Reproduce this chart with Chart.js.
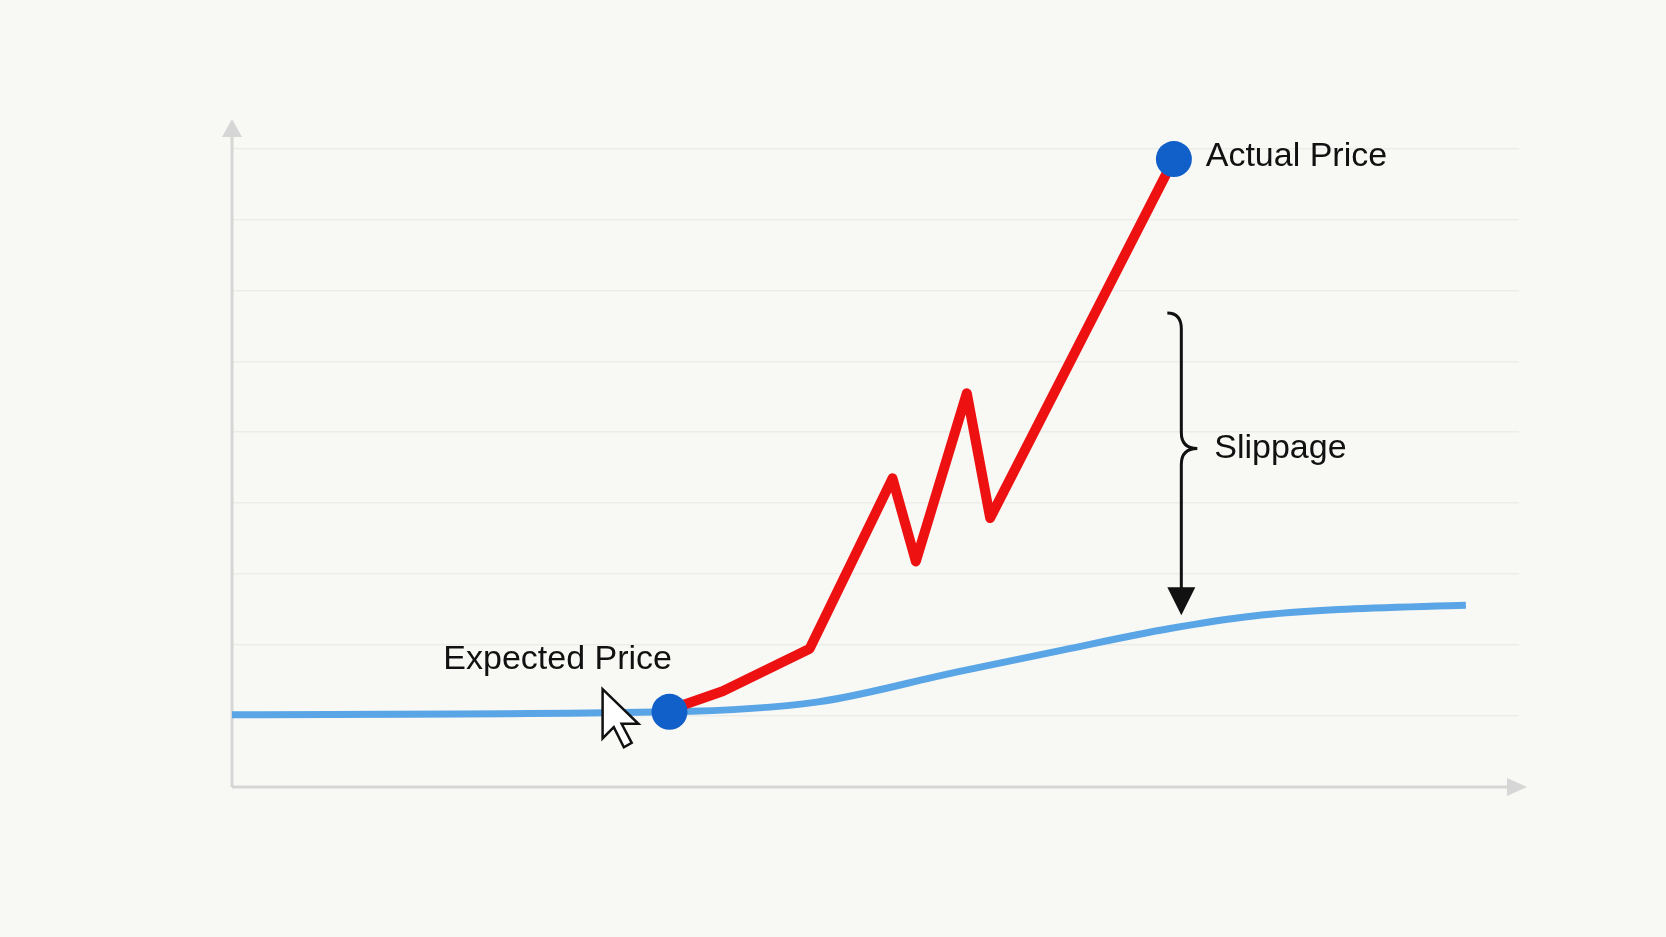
<!DOCTYPE html>
<html>
<head>
<meta charset="utf-8">
<script src="https://cdn.jsdelivr.net/npm/chart.js@4"></script>
<style>
  html, body { margin: 0; padding: 0; background: #f8f8f5; }
  #wrap { width: 1666px; height: 937px; }
</style>
</head>
<body>
<div id="wrap"><canvas id="c"></canvas></div>
<script>
'use strict';

// market price path (blue) and filled price path (red)
const marketX = [0, 4.12, 5.52, 6.82, 7.82, 8.82, 9.62, 10.42, 11.62];
const marketY = [1.02, 1.06, 1.2, 1.62, 1.93, 2.23, 2.41, 2.5, 2.56];
const fillX = [4.12, 4.62, 5.44, 6.22, 6.44, 6.92, 7.14, 8.87];
const fillY = [1.09, 1.35, 1.95, 4.35, 3.18, 5.55, 3.79, 8.85];
const markerX = [4.12, 8.87];
const markerY = [1.06, 8.85];
const labelTexts = ['Expected Price', 'Actual Price', 'Slippage'];

function pts(xs, ys) {
  const out = [];
  for (let i = 0; i < xs.length; i++) out.push({ x: xs[i], y: ys[i] });
  return out;
}

// axes, arrows, brace, cursor and labels
const decor = {
  id: 'decor',
  beforeDatasetsDraw(chart) {
    const ctx = chart.ctx;
    const a = chart.chartArea;
    ctx.save();
    ctx.strokeStyle = '#d6d6d6';
    ctx.fillStyle = '#d6d6d6';
    ctx.lineWidth = 3;
    ctx.beginPath();
    ctx.moveTo(a.left, a.bottom);
    ctx.lineTo(a.left, a.top + 8);
    ctx.moveTo(a.left, a.bottom);
    ctx.lineTo(a.right - 8, a.bottom);
    ctx.stroke();
    ctx.beginPath();
    ctx.moveTo(a.left, a.top - 6);
    ctx.lineTo(a.left - 10, a.top + 12);
    ctx.lineTo(a.left + 10, a.top + 12);
    ctx.fill();
    ctx.beginPath();
    ctx.moveTo(a.right + 8, a.bottom);
    ctx.lineTo(a.right - 12, a.bottom - 9);
    ctx.lineTo(a.right - 12, a.bottom + 9);
    ctx.fill();
    ctx.restore();
  },
  afterDatasetsDraw(chart) {
    const ctx = chart.ctx;
    const xs = chart.scales.x, ys = chart.scales.y;
    ctx.save();
    // brace + arrow
    const bx = xs.getPixelForValue(8.94);
    const yTop = ys.getPixelForValue(6.68);
    const yMid = ys.getPixelForValue(4.77);
    const yEnd = ys.getPixelForValue(2.42);
    ctx.strokeStyle = '#111';
    ctx.lineWidth = 3;
    ctx.beginPath();
    ctx.moveTo(bx - 14, yTop);
    ctx.quadraticCurveTo(bx, yTop, bx, yTop + 16);
    ctx.lineTo(bx, yMid - 16);
    ctx.quadraticCurveTo(bx, yMid, bx + 16, yMid);
    ctx.quadraticCurveTo(bx, yMid, bx, yMid + 16);
    ctx.lineTo(bx, yEnd - 20);
    ctx.stroke();
    ctx.fillStyle = '#111';
    ctx.beginPath();
    ctx.moveTo(bx, yEnd);
    ctx.lineTo(bx - 14, yEnd - 28);
    ctx.lineTo(bx + 14, yEnd - 28);
    ctx.fill();
    // cursor
    const cx = xs.getPixelForValue(3.49), cy = ys.getPixelForValue(1.38);
    const s = 1.12;
    const shape = [[0,0],[0,44],[10,34],[19,52],[26,48],[17,31],[32,31]];
    ctx.beginPath();
    shape.forEach((p, i) => {
      const px = cx + p[0] * s, py = cy + p[1] * s;
      if (i === 0) ctx.moveTo(px, py); else ctx.lineTo(px, py);
    });
    ctx.closePath();
    ctx.fillStyle = '#fff';
    ctx.fill();
    ctx.strokeStyle = '#111';
    ctx.lineWidth = 2.5;
    ctx.stroke();
    // labels
    ctx.fillStyle = '#111';
    ctx.font = '34px "Liberation Sans", Arial, sans-serif';
    ctx.textBaseline = 'middle';
    ctx.fillText(labelTexts[0], xs.getPixelForValue(1.99), ys.getPixelForValue(1.8));
    ctx.fillText(labelTexts[1], xs.getPixelForValue(9.17), ys.getPixelForValue(8.88));
    ctx.fillText(labelTexts[2], xs.getPixelForValue(9.25), ys.getPixelForValue(4.77));
    ctx.restore();
  }
};

new Chart(document.getElementById('c'), {
  type: 'scatter',
  data: {
    datasets: [
      {
        data: pts(markerX, markerY),
        pointRadius: 18,
        pointBackgroundColor: '#1160c9',
        pointBorderWidth: 0,
        order: 0
      },
      {
        data: pts(fillX, fillY),
        showLine: true,
        borderColor: '#ee1111',
        borderWidth: 10,
        borderJoinStyle: 'round',
        borderCapStyle: 'round',
        pointRadius: 0,
        order: 1
      },
      {
        data: pts(marketX, marketY),
        showLine: true,
        borderColor: '#5aa5e6',
        borderWidth: 7,
        cubicInterpolationMode: 'monotone',
        pointRadius: 0,
        order: 2
      }
    ]
  },
  options: {
    responsive: true,
    maintainAspectRatio: false,
    animation: false,
    layout: { padding: { left: 232, right: 147, top: 125, bottom: 142 } },
    plugins: { legend: { display: false }, tooltip: { enabled: false } },
    scales: {
      x: {
        type: 'linear', min: 0, max: 12.12,
        display: true,
        ticks: { display: false },
        grid: { display: false },
        border: { display: false }
      },
      y: {
        min: 0, max: 9.33,
        ticks: { display: false, stepSize: 1 },
        grid: {
          color: (c) => (c.tick && Number.isInteger(c.tick.value) ? '#ececea' : 'rgba(0,0,0,0)'),
          lineWidth: 1.5,
          drawTicks: false
        },
        border: { display: false }
      }
    }
  },
  plugins: [decor]
});
</script>
</body>
</html>
